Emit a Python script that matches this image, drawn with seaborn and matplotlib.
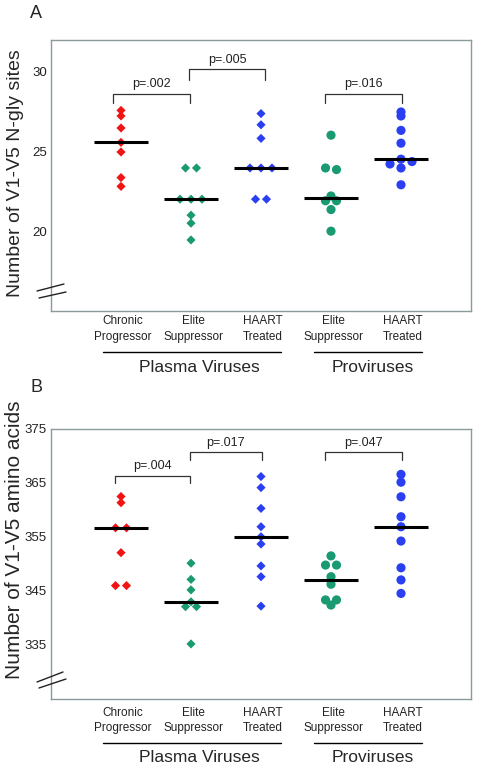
import numpy as np
import pandas as pd
import matplotlib
matplotlib.use("Agg")
import matplotlib.pyplot as plt
import seaborn as sns
from matplotlib.transforms import blended_transform_factory
from matplotlib.lines import Line2D

# ---------------- data ----------------
groups = ["CP", "ES_plasma", "HT_plasma", "ES_provirus", "HT_provirus"]
kinds = ["plasma", "plasma", "plasma", "provirus", "provirus"]
group_labels = ["Chronic\nProgressor", "Elite\nSuppressor", "HAART\nTreated",
                "Elite\nSuppressor", "HAART\nTreated"]
colors = ["#f01414", "#1a9a72", "#2a3ff2", "#1a9a72", "#2a3ff2"]

nglyc_cp = [27.6, 27.25, 26.5, 25.6, 25.0, 23.4, 22.85]
nglyc_es_plasma = [24.0, 24.0, 22.05, 22.05, 22.05, 21.05, 20.55, 19.5]
nglyc_ht_plasma = [27.4, 26.7, 25.85, 24.0, 24.0, 24.0, 22.05, 22.05]
nglyc_es_provirus = [26.05, 24.0, 23.9, 22.25, 21.95, 21.95, 21.4, 20.05]
nglyc_ht_provirus = [27.5, 27.25, 26.35, 25.55, 24.55, 24.4, 24.25, 24.0, 22.95]

aa_cp = [362.5, 361.35, 356.7, 356.7, 352.1, 346.0, 346.0]
aa_es_plasma = [350.15, 347.15, 345.2, 343.0, 342.1, 342.1, 335.2]
aa_ht_plasma = [366.2, 364.15, 360.3, 356.9, 355.05, 353.7, 349.65, 347.65, 342.2]
aa_es_provirus = [351.5, 349.8, 349.8, 347.65, 346.25, 343.35, 343.35, 342.4]
aa_ht_provirus = [366.6, 365.15, 362.45, 358.75, 356.9, 354.25, 349.3, 347.05, 344.55]

nglyc_ticks = [20, 25, 30]
aa_ticks = [335, 345, 355, 365, 375]

nglyc_pvals = ["p=.002", "p=.005", "p=.016"]
aa_pvals = ["p=.004", "p=.017", "p=.047"]

group_titles = ["Plasma Viruses", "Proviruses"]

# ---------------- style ----------------
sns.set_style("white")
plt.rcParams["font.family"] = ["Liberation Sans", "DejaVu Sans"]

W, H = 480, 772
fig = plt.figure(figsize=(W / 100, H / 100), dpi=100)
SPINE = "#8a9a9a"
diamond = [(0, 1), (1, 0), (0, -1), (-1, 0), (0, 1)]
palette = dict(zip(groups, colors))
SPREAD = 0.157  # horizontal spacing between tied points (category units)


def fy(px):
    return 1 - px / H


def spread_offsets(v, tol):
    """Cluster (near-)tied values and spread them side by side."""
    order = np.argsort(v)[::-1]
    sv = np.asarray(v)[order]
    offs = np.zeros(len(v))
    clusters, cur = [], [0]
    for k in range(1, len(sv)):
        if sv[k - 1] - sv[k] < tol:
            cur.append(k)
        else:
            clusters.append(cur)
            cur = [k]
    clusters.append(cur)
    for c in clusters:
        n = len(c)
        if n % 2 == 1:
            seq = [0]
            for m in range(1, n // 2 + 1):
                seq += [m, -m]
        else:
            seq = [(-(n - 1) / 2 + m) for m in range(n)]
        for k, o in zip(c, seq):
            offs[order[k]] = o * SPREAD
    return offs


def make_df(vals, tol):
    rows = []
    for i, (g, k, v) in enumerate(zip(groups, kinds, vals)):
        offs = spread_offsets(v, tol)
        for x, o in zip(v, offs):
            rows.append({"group": g, "kind": k, "value": x, "pos": i + o})
    return pd.DataFrame(rows)


def panel(ax_rect, vals, tol, ylim, yticks, ylabel, ylab_pos, ylab_size, pvals,
          bracket_specs, label_y, under_y, title_y, letter, letter_y, breaks):
    ax = fig.add_axes(ax_rect)
    df = make_df(vals, tol)
    sns.scatterplot(data=df, x="pos", y="value", hue="group", hue_order=groups,
                    palette=palette, style="kind", markers={"plasma": diamond, "provirus": "o"},
                    s=6.6 ** 2, linewidth=0, legend=False, ax=ax, zorder=3)
    for i, v in enumerate(vals):
        ax.hlines(np.median(v), i - 0.38, i + 0.38, color="black", lw=2.2, zorder=4)
    ax.set_xlim(-1.0, 5.0)
    ax.set_ylim(*ylim)
    ax.set_yticks(yticks)
    ax.set_xticks(range(len(groups)))
    ax.set_xlabel("")
    ax.set_ylabel("")
    ax.tick_params(axis="y", length=0, labelsize=9.5, pad=3, colors="#222222")
    ax.tick_params(axis="x", direction="in", length=3, color=SPINE, labelbottom=False)
    for s in ax.spines.values():
        s.set_color(SPINE)
        s.set_linewidth(1.0)

    # p-value brackets
    for lab, (x0, x1, ytop, ybot, ytxt) in zip(pvals, bracket_specs):
        ax.plot([x0, x0, x1, x1], [ybot, ytop, ytop, ybot], color="#333333", lw=0.9,
                clip_on=False)
        ax.text((x0 + x1) / 2, ytxt, lab, ha="center", va="center", fontsize=9,
                color="#222222")

    tr = blended_transform_factory(ax.transData, fig.transFigure)
    for i, lab in enumerate(group_labels):
        ax.text(i + 0.03, fy(label_y), lab, transform=tr, ha="center", va="center",
                fontsize=8.5, linespacing=1.35, color="#222222")
    for (x0, x1), xc, t in zip([(-0.264, 2.279), (2.764, 4.307)], [1.12, 3.59], group_titles):
        fig.add_artist(Line2D([x0, x1], [fy(under_y)] * 2, transform=tr, color="black", lw=1.0))
        ax.text(xc, fy(title_y), t, transform=tr, ha="center", va="center", fontsize=12.5)

    fig.text(ylab_pos[0] / W, fy(ylab_pos[1]), ylabel, rotation=90, ha="center",
             va="center", fontsize=ylab_size)
    fig.text(36 / W, fy(letter_y), letter, ha="center", va="center", fontsize=13)
    for (xa, ya), (xb, yb) in breaks:
        fig.add_artist(Line2D([xa / W, xb / W], [fy(ya), fy(yb)], transform=fig.transFigure,
                              color="#222222", lw=1.0))
    return ax


# Panel A
panel([51 / W, fy(311), 420 / W, 271 / H],
      [nglyc_cp, nglyc_es_plasma, nglyc_ht_plasma, nglyc_es_provirus, nglyc_ht_provirus],
      0.19, (15.06, 32.0), nglyc_ticks, "Number of V1-V5 N-gly sites", (16, 173), 14,
      nglyc_pvals,
      [(-0.12, 0.98, 28.62, 28.06, 29.25),
       (0.97, 2.06, 30.19, 29.5, 30.72),
       (2.92, 4.01, 28.62, 28.06, 29.25)],
      label_y=329, under_y=352, title_y=367, letter="A", letter_y=14,
      breaks=[((37, 291), (64, 284)), ((39, 298), (66, 292))])

# Panel B
panel([51 / W, fy(699), 420 / W, 270 / H],
      [aa_cp, aa_es_plasma, aa_ht_plasma, aa_es_provirus, aa_ht_provirus],
      0.55, (325, 375), aa_ticks, "Number of V1-V5 amino acids", (15, 540), 15,
      aa_pvals,
      [(-0.09, 0.98, 366.35, 365.0, 368.15),
       (0.98, 2.01, 370.8, 369.26, 372.4),
       (2.92, 4.01, 370.8, 369.26, 372.4)],
      label_y=720.5, under_y=743, title_y=758, letter="B", letter_y=387,
      breaks=[((37, 682), (63, 672)), ((39, 688), (66, 679))])

fig.savefig("out.png", dpi=100, facecolor="white")
